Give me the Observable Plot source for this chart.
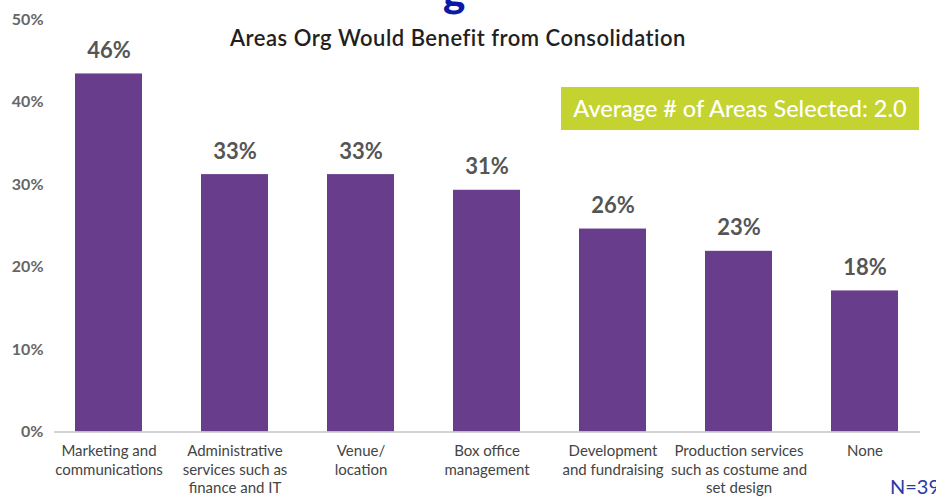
<!DOCTYPE html>
<html>
<head>
<meta charset="utf-8">
<script src="https://cdn.jsdelivr.net/npm/d3@7"></script>
<script src="https://cdn.jsdelivr.net/npm/@observablehq/plot@0.6"></script>
<style>
  html, body { margin: 0; padding: 0; background: #fff; }
  #wrap { position: relative; width: 936px; height: 498px; overflow: hidden; font-family: Lato, "Open Sans", sans-serif; }
  #chart svg { display: block; }
  .title { position: absolute; left: 0; width: 916px; top: 24px; text-align: center; font-size: 22px; font-weight: 600; color: #231f20; letter-spacing: 0.5px; }
  .cut { position: absolute; left: 443px; top: -30px; font-size: 42px; font-weight: 900; color: #0a1aa6; line-height: 42px; }
  .avg { position: absolute; left: 561px; top: 87px; width: 358px; height: 43px; background: #c4d330; color: #fff; font-size: 23.5px; line-height: 43px; text-align: center; font-weight: 500; }
  .n { position: absolute; left: 890px; top: 474px; font-size: 20px; color: #2a39a8; white-space: nowrap; }
  [aria-label="y-axis tick label"] { fill: #666; font-weight: 700; font-size: 16px; }
  [aria-label="x-axis tick label"] { fill: #444; font-size: 15px; }
</style>
</head>
<body>
<div id="wrap">
  <div id="chart"></div>
  <div class="cut">g</div>
  <div class="title">Areas Org Would Benefit from Consolidation</div>
  <div class="avg">Average # of Areas Selected: 2.0</div>
  <div class="n">N=39</div>
</div>
<script>
const categories = [
  "Marketing and\ncommunications",
  "Administrative\nservices such as\nfinance and IT",
  "Venue/\nlocation",
  "Box office\nmanagement",
  "Development\nand fundraising",
  "Production services\nsuch as costume and\nset design",
  "None"
];
// bar heights as drawn in the picture (percent)
const values = [43.4, 31.2, 31.2, 29.3, 24.6, 21.9, 17.1];
// value labels printed above the bars
const valueLabels = ["46%", "33%", "33%", "31%", "26%", "23%", "18%"];
const yTicks = [0, 10, 20, 30, 40, 50];

const data = categories.map((c, i) => ({cat: c, value: values[i], label: valueLabels[i]}));

const chart = Plot.plot({
  width: 936,
  height: 498,
  marginLeft: 54,
  marginRight: 16,
  marginTop: 19,
  marginBottom: 66.5,
  style: {fontFamily: "Lato, 'Open Sans', sans-serif", background: "#fff"},
  x: {domain: categories, paddingInner: 0.468, paddingOuter: 0.17, align: 0.5, label: null},
  y: {domain: [0, 50], label: null},
  marks: [
    Plot.barY(data, {x: "cat", y: "value", fill: "#683d8c"}),
    Plot.ruleY([0], {stroke: "#c4c4c4", strokeWidth: 1.5}),
    Plot.text(data, {x: "cat", y: "value", text: "label", dy: -23, fontSize: 22, fontWeight: 700, fill: "#555"}),
    Plot.axisY({ticks: yTicks, tickFormat: d => d + "%", tickSize: 0, tickPadding: 11, label: null}),
    Plot.axisX({tickSize: 0, tickPadding: 11, lineHeight: 1.24, label: null})
  ]
});
document.getElementById("chart").appendChild(chart);
</script>
</body>
</html>
